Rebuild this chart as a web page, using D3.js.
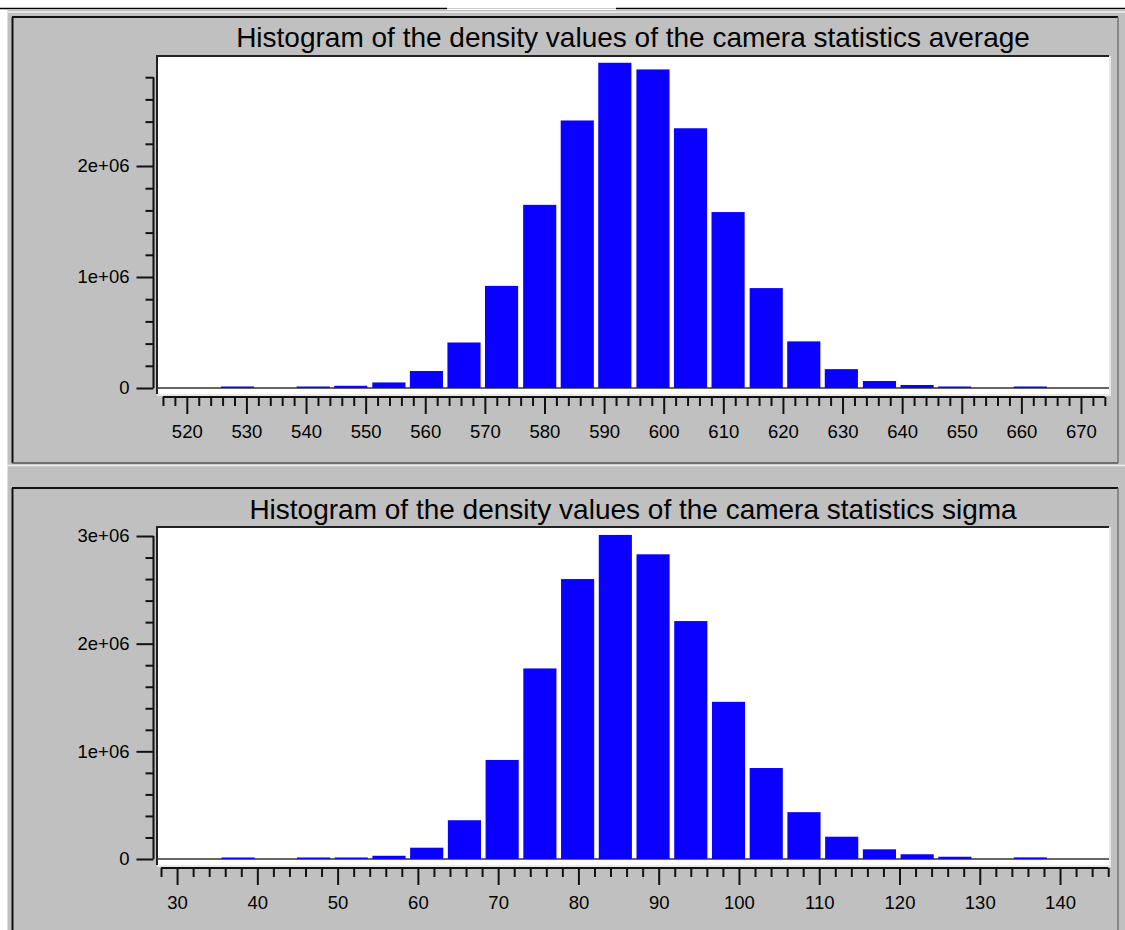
<!DOCTYPE html>
<html>
<head>
<meta charset="utf-8">
<script src="https://cdn.jsdelivr.net/npm/d3@7"></script>
<style>
  html, body { margin: 0; padding: 0; background: #fff; }
  svg { display: block; font-family: "Liberation Sans", Arial, sans-serif; }
</style>
</head>
<body>
<svg id="chart" width="1125" height="930"></svg>
<script>
//
// Data
//

// top histogram: bin centres and counts
var avgTitle = 'Histogram of the density values of the camera statistics average'
var avgCenters = [522.2, 528.5, 534.9, 541.2, 547.5, 553.9, 560.2, 566.5, 572.8, 579.2, 585.5, 591.8,
  598.2, 604.5, 610.8, 617.2, 623.5, 629.8, 636.2, 642.5, 648.8, 655.1, 661.5, 667.8, 674.1]
var avgCounts = [0, 4000, 0, 5000, 20000, 50000, 153000, 410000, 920000, 1650000, 2410000, 2930000,
  2870000, 2340000, 1585000, 900000, 420000, 170000, 63000, 27000, 8000, 0, 4000, 0, 0]
var avgBinWidth = 6.33
var avgXTicks = [520, 530, 540, 550, 560, 570, 580, 590, 600, 610, 620, 630, 640, 650, 660, 670]
var avgXMinor = [516, 518, 522, 524, 526, 528, 532, 534, 536, 538, 542, 544, 546, 548, 552, 554, 556, 558,
  562, 564, 566, 568, 572, 574, 576, 578, 582, 584, 586, 588, 592, 594, 596, 598, 602, 604, 606, 608,
  612, 614, 616, 618, 622, 624, 626, 628, 632, 634, 636, 638, 642, 644, 646, 648, 652, 654, 656, 658,
  662, 664, 666, 668, 672, 674]
var avgYTicks = [0, 1000000, 2000000]
var avgYLabels = ['0', '1e+06', '2e+06']
var avgYMinor = [200000, 400000, 600000, 800000, 1200000, 1400000, 1600000, 1800000,
  2200000, 2400000, 2600000, 2800000]

// bottom histogram
var sigTitle = 'Histogram of the density values of the camera statistics sigma'
var sigCenters = [32.9, 37.6, 42.3, 47.0, 51.7, 56.4, 61.1, 65.8, 70.5, 75.2, 79.9, 84.6,
  89.3, 94.0, 98.7, 103.4, 108.1, 112.8, 117.5, 122.2, 126.9, 131.6, 136.3, 141.0, 145.7]
var sigCounts = [0, 4000, 0, 5000, 8000, 30000, 105000, 360000, 920000, 1770000, 2600000, 3010000,
  2830000, 2210000, 1460000, 845000, 435000, 207000, 90000, 44000, 21000, 0, 15000, 0, 0]
var sigBinWidth = 4.7
var sigXTicks = [30, 40, 50, 60, 70, 80, 90, 100, 110, 120, 130, 140]
var sigXMinor = [28, 32, 34, 36, 38, 42, 44, 46, 48, 52, 54, 56, 58, 62, 64, 66, 68, 72, 74, 76, 78,
  82, 84, 86, 88, 92, 94, 96, 98, 102, 104, 106, 108, 112, 114, 116, 118, 122, 124, 126, 128,
  132, 134, 136, 138, 142, 144, 146]
var sigYTicks = [0, 1000000, 2000000, 3000000]
var sigYLabels = ['0', '1e+06', '2e+06', '3e+06']
var sigYMinor = [200000, 400000, 600000, 800000, 1200000, 1400000, 1600000, 1800000,
  2200000, 2400000, 2600000, 2800000]

//
// Configuration
//

var colorPanel = '#c0c0c0'
var colorBar = '#0a00ff'
var plotLeft = 157, plotRight = 1109

var svg = d3.select('#chart')

// window chrome
svg.append('rect').attr('x', 7).attr('y', 10).attr('width', 1118).attr('height', 920).attr('fill', colorPanel)
svg.append('line').attr('x1', 0).attr('x2', 447).attr('y1', 8.5).attr('y2', 8.5).attr('stroke', '#000').attr('stroke-width', 1.5)
svg.append('line').attr('x1', 447).attr('x2', 616).attr('y1', 8.5).attr('y2', 8.5).attr('stroke', '#ccc').attr('stroke-width', 1)
svg.append('line').attr('x1', 616).attr('x2', 1125).attr('y1', 8.5).attr('y2', 8.5).attr('stroke', '#000').attr('stroke-width', 1.5)
svg.append('line').attr('x1', 7).attr('x2', 1125).attr('y1', 12).attr('y2', 12).attr('stroke', '#e6e6e6').attr('stroke-width', 2)
svg.append('line').attr('x1', 7.5).attr('x2', 7.5).attr('y1', 10).attr('y2', 930).attr('stroke', '#e0e0e0').attr('stroke-width', 1)

function drawPanel(cfg) {
  var g = svg.append('g')

  // panel frame
  g.append('line').attr('x1', 12).attr('x2', cfg.panelRight).attr('y1', cfg.panelTop).attr('y2', cfg.panelTop)
    .attr('stroke', '#111').attr('stroke-width', 2)
  g.append('line').attr('x1', 12.5).attr('x2', 12.5).attr('y1', cfg.panelTop).attr('y2', cfg.panelBottom)
    .attr('stroke', '#111').attr('stroke-width', 2)
  g.append('line').attr('x1', cfg.panelRight).attr('x2', cfg.panelRight).attr('y1', cfg.panelTop).attr('y2', cfg.panelBottom)
    .attr('stroke', '#777').attr('stroke-width', 1.5)
  if (cfg.panelBottom < 930) {
    g.append('line').attr('x1', 12).attr('x2', cfg.panelRight).attr('y1', cfg.panelBottom).attr('y2', cfg.panelBottom)
      .attr('stroke', '#555').attr('stroke-width', 1.5)
    g.append('line').attr('x1', 7).attr('x2', 1125).attr('y1', cfg.panelBottom + 2.5).attr('y2', cfg.panelBottom + 2.5)
      .attr('stroke', '#ececec').attr('stroke-width', 1.5)
  }

  var x = d3.scaleLinear().domain(cfg.xDomain).range([plotLeft, plotRight])
  var y = d3.scaleLinear().domain([0, 3000000]).range([cfg.zeroY, cfg.topY])

  // plot area
  g.append('rect').attr('x', plotLeft).attr('y', cfg.plotTop)
    .attr('width', plotRight - plotLeft).attr('height', cfg.plotBottom - cfg.plotTop)
    .attr('fill', '#fff')
  g.append('path')
    .attr('d', 'M' + plotLeft + ',' + cfg.plotBottom + 'V' + cfg.plotTop + 'H' + plotRight)
    .attr('fill', 'none').attr('stroke', '#222').attr('stroke-width', 2)
  g.append('path')
    .attr('d', 'M' + (plotRight + 1) + ',' + cfg.plotTop + 'V' + (cfg.plotBottom + 1) + 'H' + plotLeft)
    .attr('fill', 'none').attr('stroke', '#e8e8e8').attr('stroke-width', 2)

  // zero line
  g.append('line').attr('x1', plotLeft).attr('x2', plotRight).attr('y1', y(0)).attr('y2', y(0))
    .attr('stroke', '#333').attr('stroke-width', 1.5)

  // bars
  var bins = cfg.centers.map(function (c, i) { return { c: c, n: cfg.counts[i] } })
  g.selectAll('rect.bar').data(bins.filter(function (d) { return d.n > 0 }))
    .enter().append('rect').attr('class', 'bar')
    .attr('x', function (d) { return x(d.c - cfg.binWidth / 2) + 2.3 })
    .attr('width', function (d) {
      var r = Math.min(x(d.c + cfg.binWidth / 2) - 2.3, plotRight)
      return Math.max(0, r - x(d.c - cfg.binWidth / 2) - 2.3)
    })
    .attr('y', function (d) { return Math.min(y(d.n), y(0) - 1.5) })
    .attr('height', function (d) { return y(0) - Math.min(y(d.n), y(0) - 1.5) })
    .attr('fill', colorBar)

  // title
  g.append('text').attr('x', 633).attr('y', cfg.titleY).attr('text-anchor', 'middle')
    .attr('font-size', 28).attr('fill', '#000').text(cfg.title)

  // y axis
  var axisX = 153.5
  var yMinor = d3.axisLeft(y).tickValues(cfg.yMinor).tickSize(8).tickFormat('')
  var yMajor = d3.axisLeft(y).tickValues(cfg.yTicks).tickSize(17)
    .tickFormat(function (d, i) { return cfg.yLabels[i] }).tickPadding(7)
  var ga = g.append('g').attr('transform', 'translate(' + axisX + ',0)')
  ga.call(yMinor)
  var gb = g.append('g').attr('transform', 'translate(' + axisX + ',0)')
  gb.call(yMajor)
  var yTop = d3.max(cfg.yMinor.concat(cfg.yTicks))
  g.append('line').attr('x1', axisX).attr('x2', axisX).attr('y1', y(yTop)).attr('y2', y(0))
    .attr('stroke', '#111').attr('stroke-width', 2)

  // x axis
  var xMinor = d3.axisBottom(x).tickValues(cfg.xMinor).tickSize(9).tickFormat('')
  var xMajor = d3.axisBottom(x).tickValues(cfg.xTicks).tickSize(17).tickFormat(d3.format('d')).tickPadding(11)
  var gc = g.append('g').attr('transform', 'translate(0,' + cfg.xAxisY + ')')
  gc.call(xMinor)
  var gd = g.append('g').attr('transform', 'translate(0,' + cfg.xAxisY + ')')
  gd.call(xMajor)
  g.append('line').attr('x1', x(d3.min(cfg.xMinor))).attr('x2', x(d3.max(cfg.xMinor)))
    .attr('y1', cfg.xAxisY).attr('y2', cfg.xAxisY).attr('stroke', '#111').attr('stroke-width', 2)

  g.selectAll('.domain').remove()
  g.selectAll('.tick line').attr('stroke', '#111').attr('stroke-width', 2)
  g.selectAll('.tick text').attr('fill', '#000').attr('font-size', 18.5)
    .attr('font-family', '"Liberation Sans", Arial, sans-serif')
}

drawPanel({
  title: avgTitle, titleY: 47,
  panelTop: 17, panelBottom: 463, panelRight: 1118,
  plotTop: 56, plotBottom: 394, zeroY: 388, topY: 55,
  xAxisY: 397, xDomain: [515, 674.7],
  centers: avgCenters, counts: avgCounts, binWidth: avgBinWidth,
  xTicks: avgXTicks, xMinor: avgXMinor,
  yTicks: avgYTicks, yLabels: avgYLabels, yMinor: avgYMinor
})

drawPanel({
  title: sigTitle, titleY: 519,
  panelTop: 488, panelBottom: 930, panelRight: 1118,
  plotTop: 527, plotBottom: 865, zeroY: 859, topY: 536,
  xAxisY: 868, xDomain: [27.5, 146.1],
  centers: sigCenters, counts: sigCounts, binWidth: sigBinWidth,
  xTicks: sigXTicks, xMinor: sigXMinor,
  yTicks: sigYTicks, yLabels: sigYLabels, yMinor: sigYMinor
})
</script>
</body>
</html>
